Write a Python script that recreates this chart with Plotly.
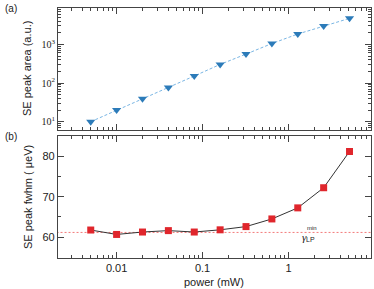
import numpy as np
import plotly.graph_objects as go

power = [0.005, 0.01, 0.02, 0.04, 0.08, 0.16, 0.32, 0.64, 1.28, 2.56, 5.12]
area = [10, 20, 39, 77, 152, 303, 560, 1050, 1850, 3000, 4700]
fwhm = [61.75, 60.65, 61.25, 61.6, 61.25, 61.8, 62.6, 64.5, 67.25, 72.25, 81.25]
gamma_min = 61.15
x_ticks = [0.01, 0.1, 1]
x_ticktext = ["0.01", "0.1", "1"]
y1_ticks = [10, 100, 1000]
y1_ticktext = ["10<sup>1</sup>", "10<sup>2</sup>", "10<sup>3</sup>"]
y2_ticks = [60, 70, 80]

def minor_log(lo, hi):
    vals = []
    for d in range(lo, hi):
        for m in range(2, 10):
            vals.append(m * 10 ** d)
    return vals

axcol = "#444444"
fig = go.Figure()
fig.add_trace(go.Scatter(x=power, y=area, mode="lines+markers",
                         line=dict(color="#7ab6e4", width=1, dash="3px,2px"),
                         marker=dict(symbol="triangle-down", size=8, color="#2c7bb9"),
                         xaxis="x", yaxis="y"))
fig.add_trace(go.Scatter(x=[0.002, 9.5], y=[gamma_min, gamma_min], mode="lines",
                         line=dict(color="#f27a7a", width=1, dash="2px,2px"),
                         xaxis="x2", yaxis="y2"))
fig.add_trace(go.Scatter(x=power, y=fwhm, mode="lines+markers",
                         line=dict(color="#333333", width=1),
                         marker=dict(symbol="square", size=7, color="#e0262c"),
                         xaxis="x2", yaxis="y2"))

xrange = [np.log10(0.00208), np.log10(9.1)]
common_x = dict(type="log", range=xrange, showline=True, linecolor=axcol, linewidth=1.2,
                mirror="allticks", ticks="inside", ticklen=6, tickwidth=1.2, tickcolor=axcol,
                tickmode="array", tickvals=x_ticks, ticktext=x_ticktext,
                showgrid=False, zeroline=False, tickfont=dict(size=11),
                minor=dict(tickmode="array", tickvals=minor_log(-3, 1), ticks="inside",
                           ticklen=3, tickwidth=1.2, tickcolor=axcol, showgrid=False))
fig.update_layout(
    width=374, height=289,
    margin=dict(l=58, r=3, t=8, b=31),
    paper_bgcolor="white", plot_bgcolor="white",
    showlegend=False,
    font=dict(family="Liberation Sans, Arial", size=11, color="#222222"),
    xaxis=dict(common_x, domain=[0, 1], anchor="y", showticklabels=False),
    yaxis=dict(type="log", domain=[0.512, 1], anchor="x",
               range=[0.786, 3.94], showline=True, linecolor=axcol, linewidth=1.2,
               mirror="allticks", ticks="inside", ticklen=6, tickwidth=1.2,
               tickcolor=axcol, tickmode="array", tickvals=y1_ticks,
               ticktext=y1_ticktext, showgrid=False,
               tickfont=dict(family="Liberation Serif, Times New Roman", size=10),
               minor=dict(tickmode="array", tickvals=minor_log(0, 4), ticks="inside",
                          ticklen=3, tickwidth=1.2, tickcolor=axcol, showgrid=False)),
    xaxis2=dict(common_x, domain=[0, 1], anchor="y2"),
    yaxis2=dict(domain=[0, 0.488], anchor="x2", range=[54.8, 85.1],
                showline=True, linecolor=axcol, linewidth=1.2, mirror="allticks",
                ticks="inside", ticklen=6, tickwidth=1.2, tickcolor=axcol,
                tickmode="array", tickvals=y2_ticks, showgrid=False, zeroline=False,
                tickfont=dict(size=11),
                minor=dict(dtick=5, ticks="inside", ticklen=3, tickwidth=1.2,
                           tickcolor=axcol, showgrid=False)),
)

def pann(text, x, y, **kw):
    fig.add_annotation(text=text, xref="paper", yref="paper", x=x, y=y,
                       showarrow=False, xanchor=kw.pop("xanchor", "center"),
                       yanchor="middle", **kw)

# paper coords: plot area x 58..371 (313 px), y 8..258 (250 px)
def px(xp):
    return (xp - 58) / 313.0

def py(yp):
    return (258 - yp) / 250.0

pann("(a)", px(3), py(8), xanchor="left", font=dict(size=10))
pann("(b)", px(3), py(136), xanchor="left", font=dict(size=10))
pann("SE peak area (a.u.)", px(27), py(69), textangle=-90, font=dict(size=11))
pann("SE peak fwhm ( μeV)", px(28), py(197), textangle=-90, font=dict(size=11))
pann("power (mW)", px(214), py(282), font=dict(size=11))

def dann(text, x, y, size, family="Liberation Sans"):
    fig.add_annotation(text=text, xref="x2", yref="y2", x=np.log10(x), y=y,
                       xanchor="center", yanchor="middle", showarrow=False,
                       font=dict(size=size, family=family))

dann("<i>γ</i>", 1.52, 60.0, 11, "Liberation Serif")
dann("min", 1.86, 62.3, 6)
dann("LP", 1.82, 59.5, 7)

fig.write_html("out.html", config={"displayModeBar": False},
               post_script="document.body.style.margin='0';document.body.style.padding='0';")
